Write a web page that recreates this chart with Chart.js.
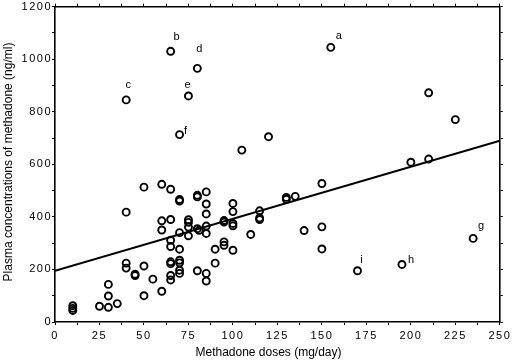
<!DOCTYPE html>
<html>
<head>
<meta charset="utf-8">
<script src="https://cdn.jsdelivr.net/npm/chart.js@4"></script>
<style>
html,body{margin:0;padding:0;background:#fff;}
#wrap{width:513px;height:364px;}
</style>
</head>
<body>
<div id="wrap"><canvas id="c" width="513" height="364"></canvas></div>
<script>
// ---- data ----
const doseX = [10,10,10,25,30,30,30,35,40,40,40,40,45,45,50,50,50,55,60,60,60,60,
  65,65,65,65,65,65,65,65,65,70,70,70,70,70,70,70,70,70,75,75,75,75,75,
  80,80,80,80,81,80,85,85,85,85,85,85,85,90,90,95,95,95,95,
  100,100,100,100,100,105,110,115,115,115,120,130,130,135,140,150,150,150,155,
  170,195,200,210,210,225,235];
const concY = [62,52,44,60,143,99,56,70,418,224,205,845,182,177,213,100,513,163,524,385,350,117,
  1030,505,390,311,287,229,222,177,160,713,466,460,340,277,235,225,197,185,860,389,379,361,328,
  965,482,476,355,349,195,495,449,411,365,337,185,156,277,224,386,380,305,292,
  451,420,375,366,273,654,333,423,396,390,705,474,467,478,348,527,362,278,1045,
  195,219,608,872,620,770,318];
const lineX = [0, 250];
const lineY = [195, 690];
const noteText = ['a','b','c','d','e','f','g','h','i'];
const noteX = [155, 65, 40, 80, 75, 70, 235, 195, 170];
const noteY = [1045, 1030, 845, 965, 860, 713, 318, 219, 195];
const xTitle = 'Methadone doses (mg/day)';
const yTitle = 'Plasma concentrations of methadone (ng/ml)';

// label pixel offsets (style, not data)
const noteOffset = {a:[8,-11], b:[6,-14], c:[2,-15], d:[2,-19], e:[-1,-11], f:[6,-4], g:[8,-12], h:[9,-4], i:[4,-11]};

const FONT = "'Liberation Sans', Arial, sans-serif";

const pts = doseX.map((x,i)=>({x:x, y:concY[i]}));
const line = lineX.map((x,i)=>({x:x, y:lineY[i]}));

const spacingPlugin = {
  id:'spacing',
  beforeDraw(chart){ chart.ctx.letterSpacing = '1.5px'; },
  afterDraw(chart){
    const ctx = chart.ctx;
    ctx.save();
    ctx.letterSpacing = '0px';
    ctx.fillStyle = '#000';
    ctx.font = '12px ' + FONT;
    ctx.textAlign = 'center';
    ctx.textBaseline = 'middle';
    ctx.fillText(xTitle, 268.5, 353);
    ctx.save();
    ctx.translate(9, 162);
    ctx.rotate(-Math.PI/2);
    ctx.fillText(yTitle, 0, 0);
    ctx.restore();
    ctx.font = '11px ' + FONT;
    const xs = chart.scales.x, ys = chart.scales.y;
    noteText.forEach((t,i)=>{
      const off = noteOffset[t];
      ctx.fillText(t, xs.getPixelForValue(noteX[i]) + off[0], ys.getPixelForValue(noteY[i]) + off[1]);
    });
    ctx.restore();
    ctx.letterSpacing = '0px';
  }
};

const gridCfg = {display:true, drawOnChartArea:false, drawTicks:true, tickLength:3, color:'#000', lineWidth:1};
const borderCfg = {display:true, color:'#000', width:1.6};

new Chart(document.getElementById('c'), {
  type:'scatter',
  data:{
    datasets:[
      {type:'line', data:line, borderColor:'#000', borderWidth:2, pointRadius:0, fill:false, order:2},
      {data:pts, pointRadius:3.5, pointHoverRadius:3.5, borderColor:'#000', borderWidth:1.9,
       backgroundColor:'rgba(0,0,0,0)', pointBackgroundColor:'rgba(0,0,0,0)', order:1}
    ]
  },
  options:{
    responsive:false,
    animation:false,
    events:[],
    layout:{padding:0},
    plugins:{legend:{display:false}, tooltip:{enabled:false}},
    scales:{
      x:{type:'linear', position:'bottom', min:0, max:250,
        ticks:{stepSize:12.5, autoSkip:false, maxRotation:0, padding:4, color:'#000',
          font:{family:FONT, size:11}, callback:(v)=> (v%25===0 ? String(v) : '')},
        grid:gridCfg, border:borderCfg,
        afterFit:(s)=>{s.height = 42;}},
      x2:{type:'linear', position:'top', min:0, max:250,
        ticks:{stepSize:12.5, autoSkip:false, display:false},
        grid:gridCfg, border:borderCfg,
        afterFit:(s)=>{s.height = 6;}},
      y:{type:'linear', position:'left', min:0, max:1200,
        ticks:{stepSize:100, autoSkip:false, padding:0, color:'#000',
          font:{family:FONT, size:11}, callback:(v)=> (v%200===0 ? String(v) : '')},
        grid:gridCfg, border:borderCfg,
        afterFit:(s)=>{s.width = 55;}},
      y2:{type:'linear', position:'right', min:0, max:1200,
        ticks:{stepSize:100, autoSkip:false, display:false},
        grid:gridCfg, border:borderCfg,
        afterFit:(s)=>{s.width = 12;}}
    }
  },
  plugins:[spacingPlugin]
});
</script>
</body>
</html>
